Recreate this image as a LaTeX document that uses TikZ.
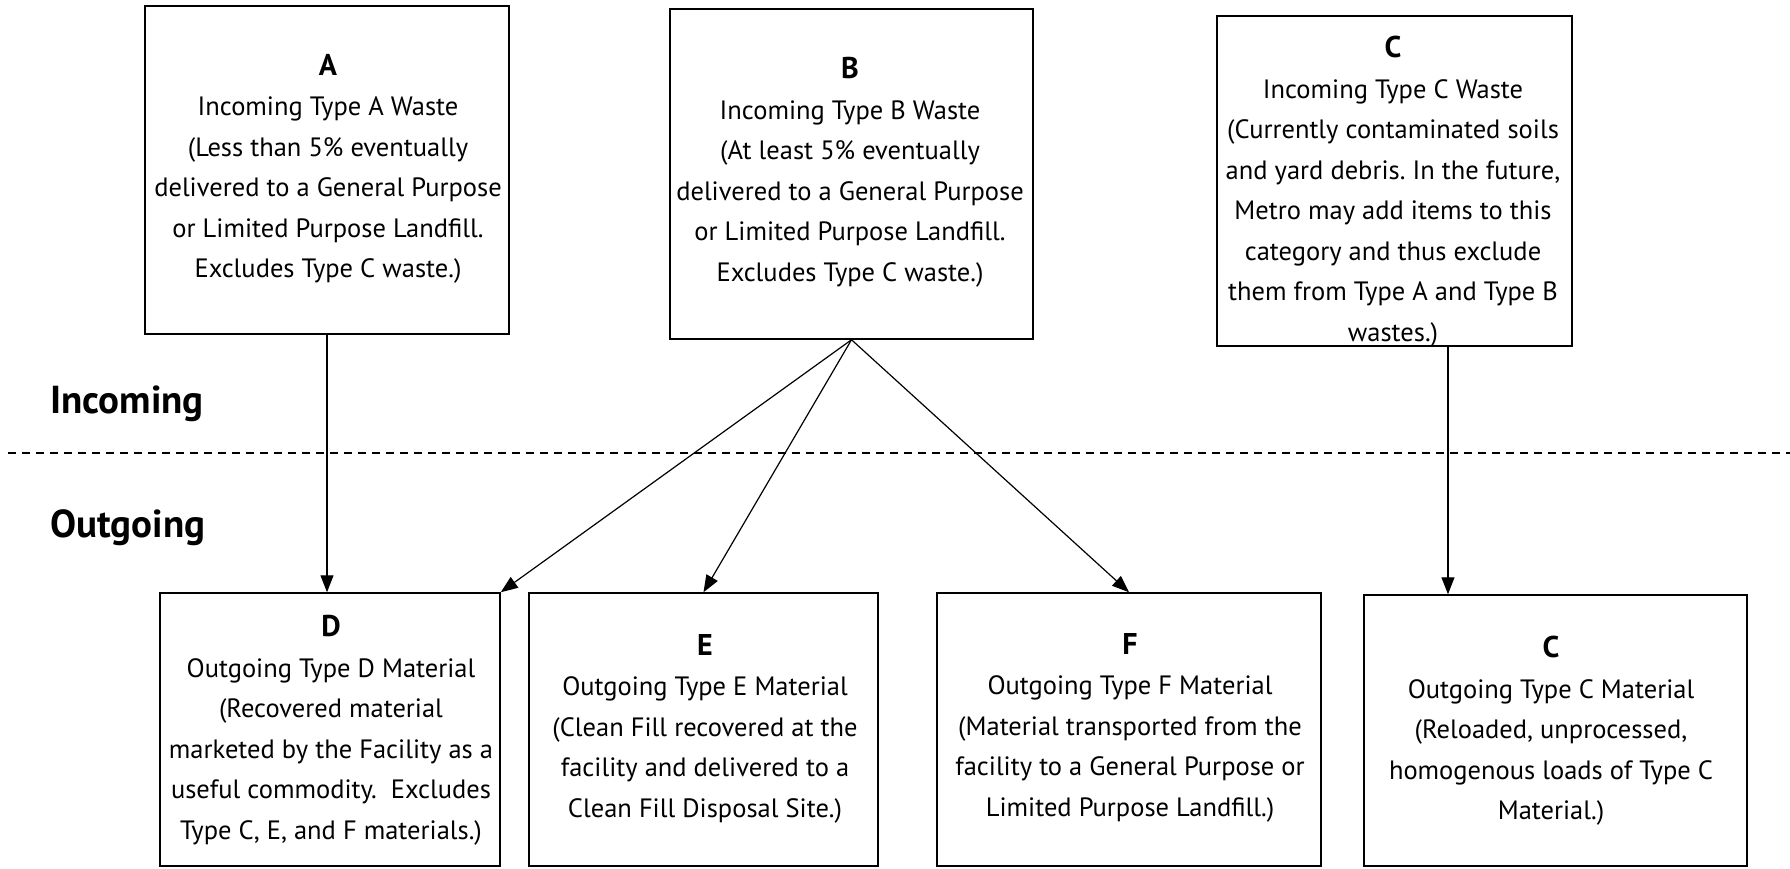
\documentclass[tikz,border=0pt]{standalone}
\usepackage{fontspec}
\setmainfont{PT Sans}
\frenchspacing
\usetikzlibrary{arrows.meta,calc}
\newcommand{\ttl}[1]{{\fontsize{30}{40.5}\selectfont\bfseries #1}}
\begin{document}
\begin{tikzpicture}[x=1pt,y=-1pt,
  box/.style={draw, line width=1.5pt, inner sep=0pt},
  txt/.style={align=center, inner sep=0pt, anchor=north, font=\fontsize{26.5}{40.5}\selectfont},
  lbl/.style={anchor=base west, inner sep=0pt, font=\fontsize{39}{42}\selectfont\bfseries},
  arr/.style={-{Triangle[length=17pt,width=13pt]}, line width=1.2pt},
  divider/.style={line width=1.3pt, dash pattern=on 8pt off 6pt}]
\useasboundingbox (0,0) rectangle (1790,868);
% boxes
\node[box, minimum width=364pt, minimum height=328pt] (A) at (327,170) {};
\node[box, minimum width=363pt, minimum height=330pt] (B) at (851.5,174) {};
\node[box, minimum width=355pt, minimum height=330pt] (Cin) at (1394.5,181) {};
\node[box, minimum width=340pt, minimum height=273pt] (D) at (330,729.5) {};
\node[box, minimum width=349pt, minimum height=273pt] (E) at (703.5,729.5) {};
\node[box, minimum width=384pt, minimum height=273pt] (F) at (1129,729.5) {};
\node[box, minimum width=383pt, minimum height=271pt] (Cout) at (1555.5,730.5) {};
% texts
\node[txt] (tA) at (328,54) {\ttl{A}\\Incoming Type A Waste\\(Less than 5\% eventually\\delivered to a General Purpose\\or Limited Purpose Landfill.\\Excludes Type C waste.)};
\node[txt] (tB) at (850,57) {\ttl{B}\\Incoming Type B Waste\\(At least 5\% eventually\\delivered to a General Purpose\\or Limited Purpose Landfill.\\Excludes Type C waste.)};
\node[txt] (tCin) at (1393,36) {\ttl{C}\\Incoming Type C Waste\\(Currently contaminated soils\\and yard debris. In the future,\\Metro may add items to this\\category and thus exclude\\them from Type A and Type B\\wastes.)};
\node[txt] (tD) at (331,615) {\ttl{D}\\Outgoing Type D Material\\(Recovered material\\marketed by the Facility as a\\useful commodity.\ \ Excludes\\Type C, E, and F materials.)};
\node[txt] (tE) at (705,634) {\ttl{E}\\Outgoing Type E Material\\(Clean Fill recovered at the\\facility and delivered to a\\Clean Fill Disposal Site.)};
\node[txt] (tF) at (1130,633) {\ttl{F}\\Outgoing Type F Material\\(Material transported from the\\facility to a General Purpose or\\Limited Purpose Landfill.)};
\node[txt] (tCout) at (1551,636) {\ttl{C}\\Outgoing Type C Material\\(Reloaded, unprocessed,\\homogenous loads of Type C\\Material.)};
% section labels
\node[lbl] (inc) at (50,413) {Incoming};
\node[lbl] (out) at (50,537) {Outgoing};
\coordinate (dl) at (8,453);
\coordinate (dr) at (1790,453);
\draw[divider] (dl) -- (dr);
% connectors
\draw[arr] (A.south) -- (A.south |- D.north);
\draw[arr] (B.south) -- (D.north east);
\draw[arr] (B.south) -- (E.north);
\draw[arr] (B.south) -- (F.north);
\coordinate (cs) at ($(Cin.south west)!0.65!(Cin.south east)$);
\draw[arr] (cs) -- (cs |- Cout.north);
\end{tikzpicture}
\end{document}
